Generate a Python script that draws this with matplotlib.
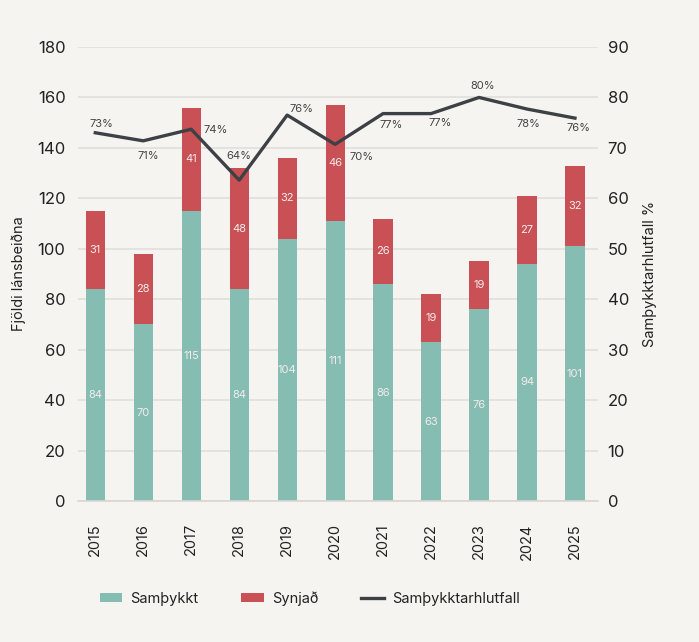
import matplotlib
matplotlib.use("Agg")
import matplotlib.pyplot as plt
import numpy as np

years = ["2015", "2016", "2017", "2018", "2019", "2020",
         "2021", "2022", "2023", "2024", "2025"]
approved = [84, 70, 115, 84, 104, 111, 86, 63, 76, 94, 101]
rejected = [31, 28, 41, 48, 32, 46, 26, 19, 19, 27, 32]
rate = [73.0, 71.4, 73.7, 63.6, 76.5, 70.7, 76.8, 76.8, 80.0, 77.7, 75.9]
rate_labels = ["73%", "71%", "74%", "64%", "76%", "70%",
               "77%", "77%", "80%", "78%", "76%"]

# label offsets for the rate line (pixels)
LABEL_OFFSETS = [(6, 9), (5, -15), (24, -1), (0, 24), (14, 6), (26, -13),
                 (8, -11), (9, -9), (4, 11), (1, -15), (3, -10)]

BG = "#f5f4f0"
TEAL = "#86bdb2"
RED = "#c95155"
LINE = "#3d4146"
GRID = "#e0dfdb"
TXT = "#222222"

plt.rcParams["font.family"] = ["Inter", "DejaVu Sans"]

fig = plt.figure(figsize=(6.99, 6.42), dpi=100, facecolor=BG)
ax = fig.add_axes([0.1116, 0.2196, 0.7439, 0.7072], facecolor=BG)

x = np.arange(len(years))
w = 0.4
ax.bar(x, approved, w, color=TEAL, label="Samþykkt", zorder=2)
ax.bar(x, rejected, w, bottom=approved, color=RED, label="Synjað", zorder=2)

for i in range(len(x)):
    ax.text(x[i], approved[i] / 2, str(approved[i]), ha="center", va="center",
            color="#f3ecec", fontsize=8, zorder=3)
    ax.text(x[i], approved[i] + rejected[i] / 2, str(rejected[i]), ha="center",
            va="center", color="#f3ecec", fontsize=8, zorder=3)

ax.set_ylim(0, 180)
ax.set_yticks(range(0, 181, 20))
ax.set_xlim(-0.36, 10.48)
ax.set_xticks(x)
ax.set_xticklabels(years, rotation=90)
ax.grid(axis="y", color=GRID, lw=1.2, zorder=0)
ax.set_axisbelow(True)
for s in ["top", "right", "left"]:
    ax.spines[s].set_visible(False)
ax.spines["bottom"].set_color("#d8d7d3")
ax.spines["bottom"].set_linewidth(1.2)
ax.tick_params(axis="both", length=0, colors=TXT)
ax.tick_params(axis="y", labelsize=12, pad=9)
ax.tick_params(axis="x", labelsize=10.5, pad=16)
ax.set_ylabel("Fjöldi lánsbeiðna", fontsize=10.5, color=TXT, labelpad=8)

ax2 = ax.twinx()
ax2.plot(x, rate, color=LINE, lw=2.4, label="Samþykktarhlutfall", zorder=4)
ax2.set_ylim(0, 90)
ax2.set_yticks(range(0, 91, 10))
for s in ["top", "right", "left", "bottom"]:
    ax2.spines[s].set_visible(False)
ax2.tick_params(axis="y", length=0, colors=TXT, labelsize=12, pad=7)
ax2.set_ylabel("Samþykktarhlutfall %", fontsize=10.5, color=TXT, labelpad=10)

for i in range(len(x)):
    ax2.annotate(rate_labels[i], (x[i], rate[i]), xytext=LABEL_OFFSETS[i],
                 textcoords="offset pixels", ha="center", va="center",
                 fontsize=8, color="#444444", zorder=5)

h1, l1 = ax.get_legend_handles_labels()
h2, l2 = ax2.get_legend_handles_labels()
fig.legend(h1 + h2, l1 + l2, loc="center", bbox_to_anchor=(0.443, 0.068),
           ncol=3, frameon=False, fontsize=10.5, handlelength=1.55,
           handleheight=0.55, columnspacing=2.95, handletextpad=0.55,
           labelcolor=TXT)

fig.savefig("out.png", dpi=100, facecolor=BG)
